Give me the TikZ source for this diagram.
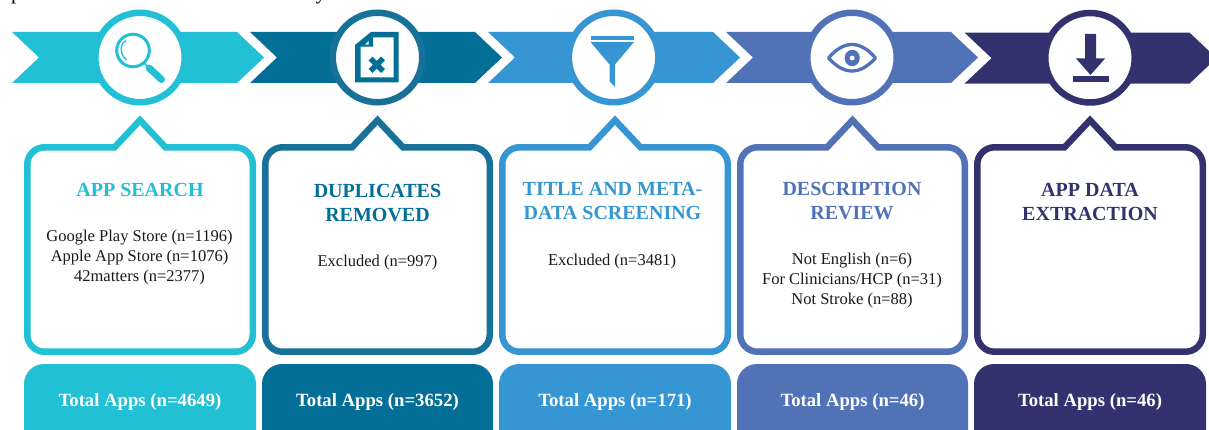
\documentclass[tikz,border=0pt]{standalone}
\usepackage{fontspec}
\setmainfont{Liberation Serif}
\definecolor{cA}{HTML}{22C0D4}
\definecolor{cB}{HTML}{046F96}
\definecolor{cBr}{HTML}{187199}
\definecolor{cC}{HTML}{3695D3}
\definecolor{cD}{HTML}{5272B8}
\definecolor{cE}{HTML}{32336E}
\tikzset{
  ring/.style={fill=white,line width=6.5pt},
  panel/.style={line width=6.5pt,fill=white,miter limit=10},
  headtext/.style={font=\fontsize{20}{24}\selectfont\bfseries,align=center,inner sep=0pt},
  bodytext/.style={font=\fontsize{16.5}{20}\selectfont,align=center,inner sep=0pt,text=black!90},
  totaltext/.style={font=\fontsize{18.7}{22}\selectfont\bfseries,text=white,inner sep=0pt},
  croptext/.style={font=\fontsize{21}{24}\selectfont,anchor=base west,inner sep=0pt,text=black}
}
% #1 colour, #2 ring colour, #3 left x, #4 circle x, #5 panel left x, #6 panel right x, #7 peak x, #8 y offset
\newcommand{\stepgraphic}[8]{
  \fill[#1] (#3,32+#8) -- (#3+225,32+#8) -- (#3+252,57.5+#8) -- (#3+225,83+#8) -- (#3,83+#8) -- (#3+27,57.5+#8) -- cycle;
  \draw[ring,draw=#2] (#4,57.5+#8*0.4) circle (44.75);
  \draw[panel,draw=#2] (#5+20.25,147.3) -- (#7-25.5,147.3) -- (#7,120.2) -- (#7+25.5,147.3)
     -- (#6-20.25,147.3) .. controls (#6-11,147.3) and (#6-3.25,155.3) .. (#6-3.25,164.3)
     -- (#6-3.25,334.7) .. controls (#6-3.25,344) and (#6-11,351.7) .. (#6-20.25,351.7)
     -- (#5+20.25,351.7) .. controls (#5+11,351.7) and (#5+3.25,344) .. (#5+3.25,334.7)
     -- (#5+3.25,164.3) .. controls (#5+3.25,155.3) and (#5+11,147.3) .. (#5+20.25,147.3) -- cycle;
  \fill[#1,rounded corners=20pt] (#5,364) rectangle (#6,460);
}
\begin{document}
\begin{tikzpicture}[x=1pt,y=-1pt]
\useasboundingbox (0,0) rectangle (1209,430);
\clip (0,0) rectangle (1209,430);
\node[croptext] (cropP) at (11,0) {p};
\node[croptext] (cropY) at (315.5,0) {y};

\stepgraphic{cA}{cA}{12}{140}{24}{256}{140}{0}
\stepgraphic{cB}{cBr}{250}{377.5}{262}{493}{377.5}{0}
\stepgraphic{cC}{cC}{488}{613.6}{499}{731}{615}{0}
\stepgraphic{cD}{cD}{726}{852}{737}{968}{852.5}{0}
\stepgraphic{cE}{cE}{964.5}{1090}{974}{1206}{1090}{0.6}

% magnifier
\draw[cA,line width=3pt] (133,50.5) circle (16.3);
\draw[cA,line width=1.4pt] (126.7,60) .. controls (120,55) and (119,45) .. (126,40.5);
\draw[cA,line width=1.6pt] (144,63) -- (148,67);
\draw[cA,line width=7pt,line cap=round] (149,68) -- (161.5,79.5);

% document
\fill[cB,even odd rule] (371,32) -- (398.7,32) -- (398.7,82.5) -- (355,82.5) -- (355,45) -- cycle
  (373,37.3) -- (393.5,37.3) -- (393.5,77.3) -- (360.5,77.3) -- (360.5,46.7) -- (373,46.7) -- cycle;
\fill[white] (365,44.7) -- (368.5,41) -- (368.5,44.7) -- cycle;
\draw[cB,line width=5.5pt] (370.5,58.5) -- (383,71) (370.5,71) -- (383,58.5);

% funnel
\fill[cC] (590.5,36) rectangle (634,40);
\fill[cC] (590.5,42) -- (634,42) -- (615,64.5) -- (615,87) -- (609.5,81.5) -- (609.5,64.5) -- cycle;

% eye
\draw[cD,line width=3.3pt,line join=round] (828.5,58) .. controls (837,48) and (845,44.5) .. (852,44.5)
   .. controls (859,44.5) and (867,48) .. (875.5,58)
   .. controls (867,67.5) and (859,71) .. (852,71)
   .. controls (845,71) and (837,67.5) .. (828.5,58) -- cycle;
\fill[cD] (852.2,58) ellipse [x radius=7.6,y radius=8.2];
\fill[white] (852.2,58) circle (2.4);

% download
\fill[cE] (1085,34) -- (1096,34) -- (1096,58.5) -- (1105,58.5) -- (1090.5,75) -- (1076,58.5) -- (1085,58.5) -- cycle;
\fill[cE] (1072.5,76) rectangle (1108.5,81.7);

% headings
\node[headtext,text=cA] (headA) at (140,190) {APP SEARCH};
\node[headtext,text=cB] (headB) at (377.5,203) {DUPLICATES\\REMOVED};
\node[headtext,text=cC] (headC) at (612.5,201) {TITLE AND META-\\DATA SCREENING};
\node[headtext,text=cD] (headD) at (852,201) {DESCRIPTION\\REVIEW};
\node[headtext,text=cE] (headE) at (1090,202) {APP DATA\\EXTRACTION};

% bodies
\node[bodytext] (bodyA) at (139.5,257.5) {Google Play Store (n=1196)\\Apple App Store (n=1076)\\42matters (n=2377)};
\node[bodytext] (bodyB) at (377.5,262.5) {Excluded (n=997)};
\node[bodytext] (bodyC) at (612,261.5) {Excluded (n=3481)};
\node[bodytext] (bodyD) at (852,281) {Not English (n=6)\\For Clinicians/HCP (n=31)\\Not Stroke (n=88)};

% totals
\node[totaltext] (totalA) at (140,402.5) {Total Apps (n=4649)};
\node[totaltext] (totalB) at (377.5,402.5) {Total Apps (n=3652)};
\node[totaltext] (totalC) at (615,402.5) {Total Apps (n=171)};
\node[totaltext] (totalD) at (852.5,402.5) {Total Apps (n=46)};
\node[totaltext] (totalE) at (1090,402.5) {Total Apps (n=46)};
\end{tikzpicture}
\end{document}
